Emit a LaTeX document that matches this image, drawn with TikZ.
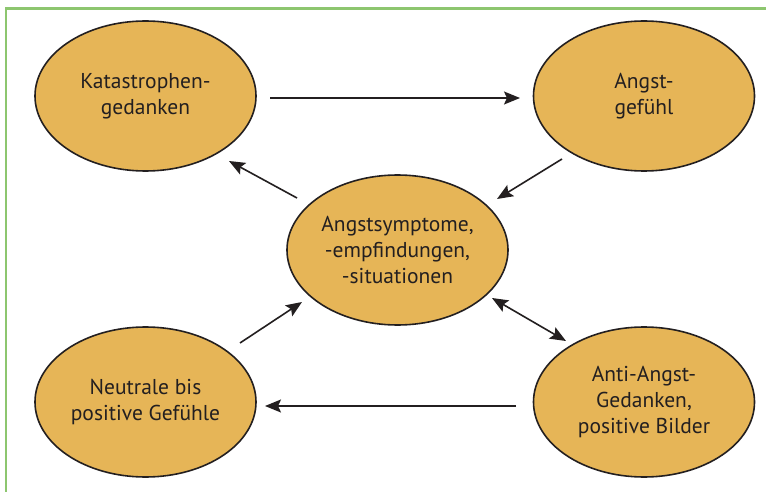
\documentclass[tikz,border=0pt]{standalone}
\usepackage{fontspec}
\setmainfont{PT Sans}
\usetikzlibrary{shapes.geometric,arrows.meta}
\definecolor{boxgreen}{RGB}{141,198,111}
\definecolor{gold}{RGB}{230,181,87}
\definecolor{ink}{RGB}{35,31,32}
\tikzset{
  bubble/.style={ellipse, draw=ink, line width=1.6pt, fill=gold, minimum width=221pt, minimum height=150pt, inner sep=0pt, align=center, text=ink, font=\fontsize{21.5}{26}\selectfont},
  arr/.style={draw=ink, line width=1.6pt, -{Stealth[length=16pt,width=13pt,inset=3pt]}},
  darr/.style={draw=ink, line width=1.6pt, {Stealth[length=16pt,width=13pt,inset=3pt]}-{Stealth[length=16pt,width=13pt,inset=3pt]}}
}
\begin{document}
\begin{tikzpicture}[x=1pt,y=-1pt]
\useasboundingbox (0,0) rectangle (766,492);
\fill[white] (0,0) rectangle (766,492);
\draw[boxgreen, line width=2.6pt] (6,492) -- (6,8.5) -- (766,8.5);

\node[bubble] (kat) at (145.5,96) {Katastrophen-\\gedanken};
\node[bubble] (angst) at (644,96) {Angst-\\gefühl};
\node[bubble] (mid) at (397.5,250) {Angstsymptome,\\-empfindungen,\\-situationen};
\node[bubble] (neut) at (145.5,402) {Neutrale bis\\positive Gefühle};
\node[bubble] (anti) at (644,402) {Anti-Angst-\\Gedanken,\\positive Bilder};

\coordinate (k1) at (270,98);   \coordinate (k2) at (520,98);
\coordinate (a1) at (562,159);  \coordinate (a2) at (497,199);
\coordinate (m1) at (297,198);  \coordinate (m2) at (229,161);
\coordinate (n1) at (240,343);  \coordinate (n2) at (302,302);
\coordinate (d1) at (492,298);  \coordinate (d2) at (566,341);
\coordinate (t1) at (516,406);  \coordinate (t2) at (265,406);

\draw[arr] (k1) -- (k2);
\draw[arr] (a1) -- (a2);
\draw[arr] (m1) -- (m2);
\draw[arr] (n1) -- (n2);
\draw[darr] (d1) -- (d2);
\draw[arr] (t1) -- (t2);
\end{tikzpicture}
\end{document}
